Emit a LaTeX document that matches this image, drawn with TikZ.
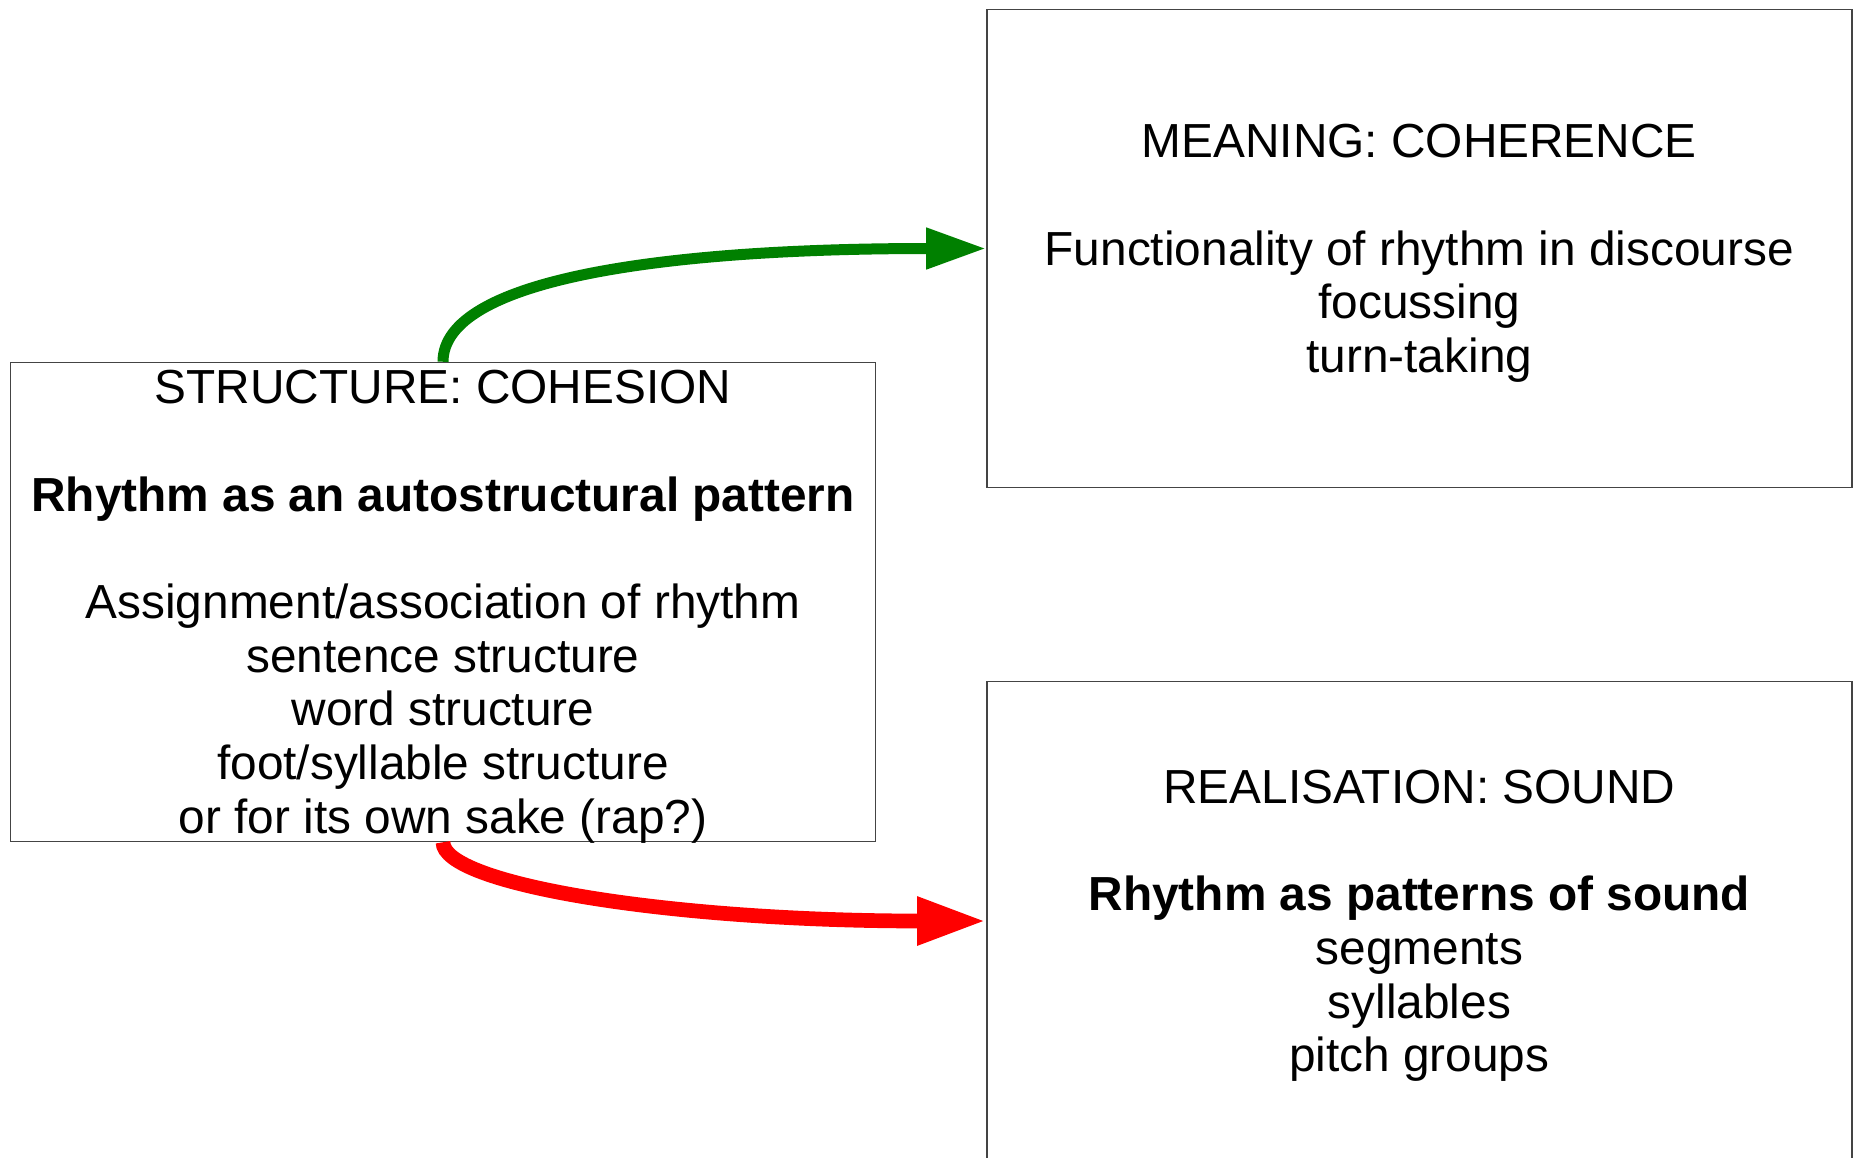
\documentclass[tikz,border=0pt]{standalone}
\usepackage{fontspec}
\setmainfont{Liberation Sans}
\usetikzlibrary{arrows.meta}
\definecolor{boxline}{RGB}{68,68,68}
\definecolor{arrowgreen}{RGB}{0,128,0}
\definecolor{arrowred}{RGB}{255,0,0}
% invisible strut with the ascent and descent of one text line
\newcommand\linestrut{\rule[-0.212em]{0pt}{1.117em}}
\begin{document}
\begin{tikzpicture}[x=1pt,y=-1pt,
  panel/.style={draw=boxline, line width=1.5pt, rectangle, inner xsep=0pt,
    inner ysep=-3pt, minimum width=865pt, minimum height=479pt, align=center,
    font=\fontsize{47.8pt}{53.7pt}\selectfont},
  link/.style={line width=#1, line cap=butt}]
\useasboundingbox (0,0) rectangle (1855,1157);

\node[panel] (structure) at (443,602) {\linestrut STRUCTURE: COHESION\\
  \linestrut\\
  \textbf{Rhythm as an autostructural pattern}\\
  \linestrut\\
  Assignment/association of rhythm\\
  sentence structure\\
  word structure\\
  foot/syllable structure\\
  or for its own sake (rap?)\linestrut};

\node[panel, minimum height=478pt] (meaning) at (1419.3,248.5) {\linestrut MEANING: COHERENCE\\
  \linestrut\\
  Functionality of rhythm in discourse\\
  focussing\\
  turn-taking\linestrut};

\node[panel] (sound) at (1419.3,921) {\linestrut REALISATION: SOUND\\
  \linestrut\\
  \textbf{Rhythm as patterns of sound}\\
  segments\\
  syllables\\
  pitch groups\linestrut};

\draw[link=11pt, draw=arrowgreen, -{Triangle[length=60pt,width=39pt]}]
  (structure.north) .. controls +(0,-82) and +(-326,0) .. (meaning.west);
\draw[link=14.7pt, draw=arrowred, -{Triangle[length=69pt,width=45pt]}]
  (structure.south) .. controls +(0,42) and +(-317,0) .. (sound.west);
\end{tikzpicture}
\end{document}
